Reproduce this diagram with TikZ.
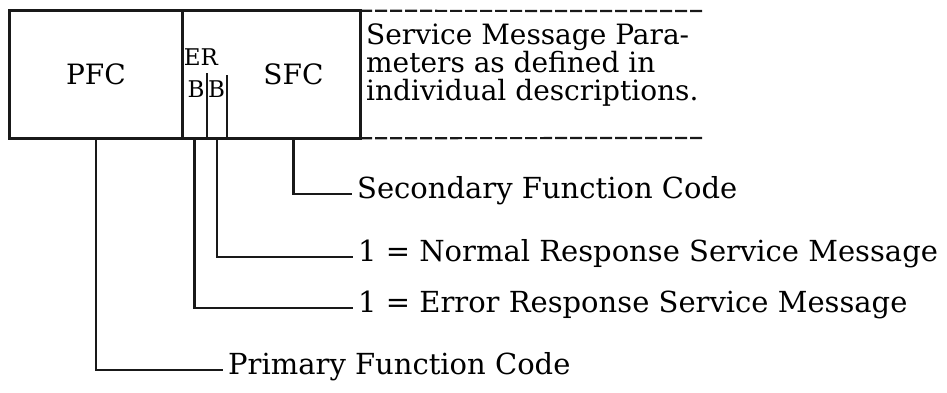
\documentclass[tikz,border=0pt]{standalone}
\usepackage{fontspec}
\setmainfont{DejaVu Serif}
\def\boxedge{2.8}
\def\leaderedge{2.4}
\definecolor{edgeblack}{rgb}{0.1,0.1,0.1}

\begin{document}
\begin{tikzpicture}[x = 1pt, y = -1pt,
    field/.style = {minimum height=127pt, inner sep=0pt, font=\fontsize{28}{30}\selectfont},
    bitlab/.style = {inner sep=0pt, font=\fontsize{23}{26}\selectfont},
    lab/.style = {anchor=base west, inner xsep=5pt, inner ysep=0pt, font=\fontsize{29}{32}\selectfont}]

            \useasboundingbox (0,0) rectangle (947,392);

            \node[field, minimum width=172pt] (pfc) at (96,74.5) {PFC};
            \node[field, minimum width=25pt] (erb) at (194.5,74.5) {};
            \node[field, minimum width=20pt] (nbb) at (217,74.5) {};
            \node[field, minimum width=133pt] (sfc) at (293.5,74.5) {SFC};

            \node[bitlab] (er) at (201,57) {ER};
            \node[bitlab] (b1) at (196,89) {B};
            \node[bitlab] (b2) at (216.5,89) {B};

            \draw [line width=\boxedge, color=edgeblack] (pfc.north west) rectangle (sfc.south east);
            \draw [line width=\boxedge, color=edgeblack] (pfc.north east) -- (pfc.south east);
            \draw [line width=\leaderedge, color=edgeblack] (erb.east |- 0,73) -- (erb.south east);
            \draw [line width=\leaderedge, color=edgeblack] (nbb.east |- 0,75) -- (nbb.south east);

            \coordinate (topend) at (703,11);
            \coordinate (botend) at (703,138);
            \draw [line width=2.2, color=edgeblack, dash pattern=on 12pt off 3pt] (sfc.north east) -- (topend);
            \draw [line width=2.2, color=edgeblack, dash pattern=on 12pt off 3pt] (sfc.south east) -- (botend);

            \node[anchor=north west, inner sep=0pt, align=left, font=\fontsize{28}{28}\selectfont] (params) at (366,24)
                {Service Message Para-\\meters as defined in\\individual descriptions.};

            \node[lab] (sfclab) at (352,198) {Secondary Function Code};
            \node[lab] (nrlab) at (353,261) {1 = Normal Response Service Message};
            \node[lab] (erlab) at (353,312) {1 = Error Response Service Message};
            \node[lab] (pfclab) at (223,374) {Primary Function Code};

            \draw [line width=\leaderedge, color=edgeblack] (sfc.south) |- ([yshift=4pt]sfclab.base west);
            \draw [line width=\leaderedge, color=edgeblack] (nbb.south) |- ([yshift=4pt]nrlab.base west);
            \draw [line width=\leaderedge, color=edgeblack] (erb.south) |- ([yshift=4pt]erlab.base west);
            \draw [line width=\leaderedge, color=edgeblack] (pfc.south) |- ([yshift=4pt]pfclab.base west);

\end{tikzpicture}
\end{document}
